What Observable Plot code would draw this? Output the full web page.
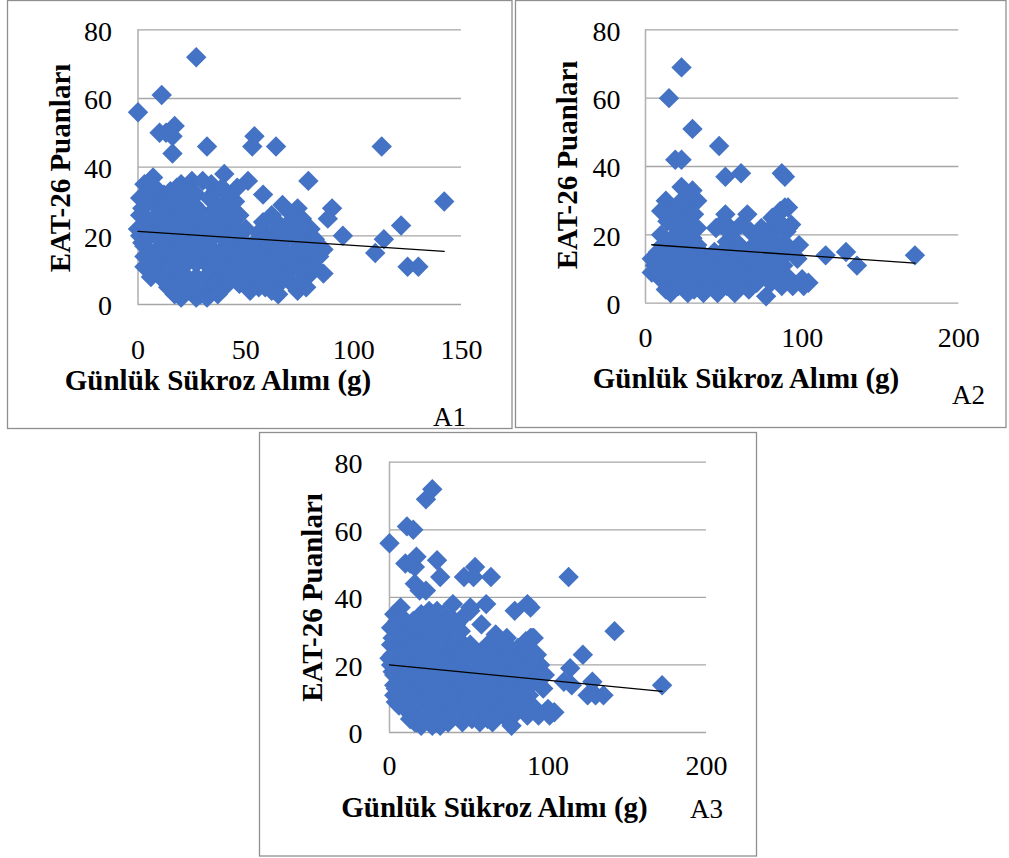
<!DOCTYPE html>
<html>
<head>
<meta charset="utf-8">
<script src="https://cdn.jsdelivr.net/npm/d3@7"></script>
<script src="https://cdn.jsdelivr.net/npm/@observablehq/plot@0.6"></script>
<style>
  html, body { margin: 0; padding: 0; background: #fff; }
  #root { position: relative; width: 1009px; height: 858px; overflow: hidden; font-family: "Liberation Serif", "Times New Roman", serif; }
  #root svg.panel { position: absolute; }
  #root svg.panel text { font-family: "Liberation Serif", "Times New Roman", serif !important; font-size: 28px !important; font-variant: normal !important; }
  #overlay { position: absolute; left: 0; top: 0; pointer-events: none; }
  #overlay text { font-family: "Liberation Serif", "Times New Roman", serif; }
</style>
</head>
<body>
<div id="root"></div>
<script>
// ---------------- DATA ----------------
const yTicks = [0, 20, 40, 60, 80];
const xTicksA1 = [0, 50, 100, 150];
const xTicksA2 = [0, 100, 200];
const xTicksA3 = [0, 100, 200];

const xTitle = "Günlük Sükroz Alımı (g)";
const yTitle = "EAT-26 Puanları";
const panelNames = ["A1", "A2", "A3"];

// A1: [sucrose g, EAT-26 score]
const sampleA1 = [
  [27,72],[11,61],[0,56],[10,50],[13,50],[17,52],[16,49],[16,44],[32,46],[54,49],[53,46],[64,46],[113,46],
  [79,36],[142,30],[74,28],[90,28],[88,25],[80,22],[95,20],[122,23],[114,19],[110,15],[125,11],[130,11],
  [86,16],[80,9],[86,9],[74,4],[3,35],[7,37],[1,31],[40,38],[0,22],[51,36],[58,32],[58,24],[46,34],[45,30],
  [3,14],[70,7],[75,15],[20,35],[25,36],[30,36],[34,35],[1,26],[2,18],
  [5,33],[12,32],[18,34],[24,33],[36,33],[42,32],
  [2,28],[8,29],[14,30],[20,28],[26,29],[39,29],[44,27],
  [4,25],[10,24],[16,26],[22,25],[28,24],[35,25],[41,24],[47,26],
  [1,20],[7,21],[13,22],[19,20],[25,21],[31,20],[37,22],[43,21],
  [3,17],[9,16],[15,18],[21,17],[27,16],[33,17],[39,16],[45,18],
  [6,12],[12,13],[18,12],[24,14],[30,13],[36,12],[42,13],
  [9,9],[15,8],[21,9],[27,8],[33,9],[39,8],[45,10],
  [14,5],[19,4],[24,5],[29,3],[34,5],[40,5],
  [20,2],[27,2],[31,3],
  [8,34],[15,33],[21,31],[27,32],[33,31],[39,34],
  [5,30],[11,27],[17,29],[23,27],[29,27],[36,28],[42,29],
  [2,23],[7,25],[13,25],[19,23],[25,24],[32,23],[38,25],[44,23],
  [4,19],[10,19],[16,20],[22,19],[28,19],[34,19],[40,19],
  [6,15],[12,16],[18,15],[24,17],[30,16],[36,15],[42,16],
  [3,11],[9,12],[15,11],[21,11],[27,12],[33,11],[39,11],[44,14],
  [6,8],[12,7],[18,6],[24,7],[30,7],[36,6],[42,7],
  [17,3],[22,4],[26,5],[32,2],[37,3],
  [62,26],[67,29],[70,27],[76,25],[72,25],
  [50,22],[66,23],[72,22],[78,20],
  [48,19],[54,18],[60,20],[68,19],[74,18],[82,19],
  [51,15],[57,14],[63,16],[69,15],[77,13],[84,14],
  [48,11],[55,10],[61,12],[66,10],[72,11],[80,12],
  [47,6],[53,7],[59,8],[64,6],[68,9],[76,7],
  [56,5],[62,4],
  [46,21],[56,21],[64,22],[70,23],[76,22],[81,17],
  [50,17],[56,16],[62,18],[66,17],[72,15],[79,16],
  [46,14],[53,12],[59,13],[65,13],[70,12],[75,10],[82,11],
  [50,9],[56,8],[62,9],[67,7],[72,6],[78,5],
  [52,4],[59,5],[65,3]
];

// A2: [sucrose g, EAT-26 score]
const sampleA2 = [
  [23,69],[15,60],[30,51],[47,46],[19,42],[23,42],[51,37],[61,38],[87,38],[89,37],[23,34],[28,32],[13,30],
  [33,30],[30,33],[51,26],[65,26],[89,28],[93,23],[45,22],[67,21],[10,20],[98,17],[4,13],[77,2],[100,7],
  [115,14],[128,15],[135,11],[172,14],[97,13],[104,6],[101,5],[94,5],[91,22],[91,28],[10,27],[14,26],
  [17,27],[25,28],[31,26],[54,22],[81,25],[86,27],[29,26],[16,25],[22,20],[33,22],[61,23],[78,21],[87,17],
  [14,24],[20,22],[27,23],[48,23],[56,21],[74,22],[84,22],[90,21],
  [17,19],[24,18],[30,19],[52,18],[60,17],[72,18],[79,19],[88,18],
  [8,15],[14,14],[21,15],[28,14],[35,15],[42,14],[49,15],[56,14],[63,15],[70,14],[77,15],[84,13],[91,15],
  [6,11],[12,10],[18,11],[25,10],[32,11],[39,10],[46,11],[53,10],[60,11],[67,10],[74,11],[81,10],[88,11],
  [10,7],[16,6],[22,7],[29,6],[36,7],[43,6],[50,7],[57,6],[64,7],[71,6],[85,7],[90,8],
  [16,3],[27,3],[37,3],[46,3],[57,3],[66,4],
  [4,9],[9,13],[15,12],[20,13],[26,12],[31,13],[37,12],[44,13],[51,12],[58,12],[65,13],[72,12],[79,12],[86,15],
  [8,9],[14,8],[20,9],[27,8],[34,9],[41,8],[48,9],[55,8],[62,9],[69,8],[76,9],[83,9],
  [13,4],[21,5],[31,4],[41,5],[52,5],[61,5],[80,6],[87,5],
  [11,17],[19,16],[26,16],[33,17],[44,15],[58,15],[67,16],[75,16],[82,17],
  [21,25],[28,20],[53,21],[85,24],[23,30]
];

// A3 pools both groups
const sampleA3 = sampleA1.concat(sampleA2);

// linear trend lines as drawn (end points)
const trendA1 = [[0,21.3],[142,15.5]];
const trendA2 = [[4,17.1],[172,11.7]];
const trendA3 = [[0,20],[172,12.2]];

// ---------------- LAYOUT ----------------
const panels = [
  { name: panelNames[0], points: sampleA1, trend: trendA1, xDomain: [0,150], xTicks: xTicksA1,
    left: 0, top: 0, width: 512, height: 430, mL: 137.5, mR: 51, mT: 29.3, mB: 126, xPad: 35, yPad: 26,
    frame: [7.5, 0.5, 504.5, 428], xt: [218, 390], yt: [70, 168], lab: [433, 426] },
  { name: panelNames[1], points: sampleA2, trend: trendA2, xDomain: [0,200], xTicks: xTicksA2,
    left: 515, top: 0, width: 494, height: 430, mL: 130, mR: 50.7, mT: 29.3, mB: 127.3, xPad: 24, yPad: 25,
    frame: [515.5, 0.5, 490.5, 427], xt: [746, 388], yt: [577, 165], lab: [952, 404] },
  { name: panelNames[2], points: sampleA3, trend: trendA3, xDomain: [0,200], xTicks: xTicksA3,
    left: 259, top: 432, width: 500, height: 426, mL: 130, mR: 53, mT: 29.7, mB: 126, xPad: 23, yPad: 27,
    frame: [259.5, 432.5, 497, 423.5], xt: [494.5, 817], yt: [321.5, 597.5], lab: [690, 818] }
];

const root = document.getElementById("root");
const FONT = "Liberation Serif, Times New Roman, serif";

// frames + titles overlay (real text)
const overlay = d3.select(root).append("svg")
  .attr("id", "overlay").attr("width", 1009).attr("height", 858);

for (const p of panels) {
  overlay.append("rect")
    .attr("x", p.frame[0]).attr("y", p.frame[1])
    .attr("width", p.frame[2]).attr("height", p.frame[3])
    .attr("fill", "none").attr("stroke", "#8f8f8f").attr("stroke-width", 1.3);
}

for (const p of panels) {
  const chart = Plot.plot({
    width: p.width,
    height: p.height,
    marginLeft: p.mL, marginRight: p.mR, marginTop: p.mT, marginBottom: p.mB,
    style: { fontFamily: FONT, fontSize: "28px", background: "transparent", overflow: "visible", color: "#000" },
    x: { domain: p.xDomain },
    y: { domain: [0, 80] },
    marks: [
      Plot.gridY(yTicks, { stroke: "#a6a6a6", strokeOpacity: 1, strokeWidth: 1.3 }),
      Plot.ruleX([0], { stroke: "#b3b3b3", strokeWidth: 1.6 }),
      Plot.dot(p.points, { x: d => d[0], y: d => d[1], symbol: "diamond2", r: 9.2, fill: "#4472C4", stroke: "none" }),
      Plot.line(p.trend, { x: d => d[0], y: d => d[1], stroke: "#000", strokeWidth: 1.3 }),
      Plot.axisX(p.xTicks, { tickSize: 0, tickPadding: p.xPad, fontSize: 28, fontFamily: FONT, label: null, fill: "#000" }),
      Plot.axisY(yTicks, { tickSize: 0, tickPadding: p.yPad, fontSize: 28, fontFamily: FONT, label: null, fill: "#000", dy: 2 })
    ]
  });
  chart.classList.add("panel");
  chart.style.left = p.left + "px";
  chart.style.top = p.top + "px";
  root.insertBefore(chart, document.getElementById("overlay"));
}

for (const p of panels) {
  overlay.append("text")
    .attr("x", p.xt[0]).attr("y", p.xt[1])
    .attr("text-anchor", "middle")
    .attr("font-weight", "bold").attr("font-size", 29)
    .text(xTitle);
  overlay.append("text")
    .attr("transform", `translate(${p.yt[0]},${p.yt[1]}) rotate(-90)`)
    .attr("text-anchor", "middle")
    .attr("font-weight", "bold").attr("font-size", 29)
    .text(yTitle);
  overlay.append("text")
    .attr("x", p.lab[0]).attr("y", p.lab[1])
    .attr("font-size", 27)
    .text(p.name);
}
</script>
</body>
</html>
